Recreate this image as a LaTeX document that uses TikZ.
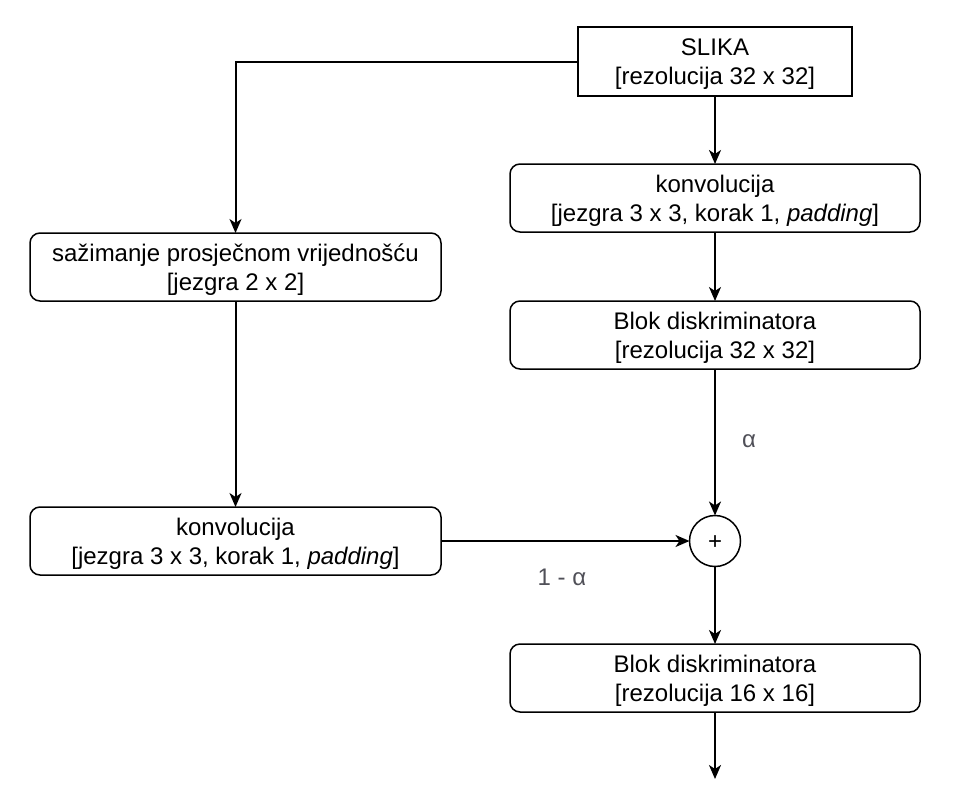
\documentclass[tikz,border=0pt]{standalone}
\usepackage{fontspec}
\setmainfont{Liberation Sans}
\usetikzlibrary{arrows.meta}
\definecolor{lblgray}{HTML}{505058}
\begin{document}
\begin{tikzpicture}[x=1pt,y=-1pt,
  every node/.style={font=\fontsize{24}{29}\selectfont, align=center, inner sep=0pt, outer sep=0pt},
  sharpbox/.style={draw, line width=1.5pt, minimum width=274pt, minimum height=69pt, text depth=0pt},
  rbox/.style={draw, line width=1.5pt, rounded corners=10pt, minimum width=410pt, minimum height=68pt, text depth=0pt},
  sumnode/.style={draw, line width=1.5pt, circle, minimum size=51pt},
  conn/.style={line width=2pt, -{Stealth[length=14pt, width=12pt, inset=4pt]}},
  lbl/.style={text=lblgray}
]
\useasboundingbox (0,0) rectangle (968,787);
\node[sharpbox] (slika) at (715,61.5) {SLIKA\\{[}rezolucija 32 x 32{]}};
\node[rbox] (konv1) at (715,198) {konvolucija\\{[}jezgra 3 x 3, korak 1, \textit{padding}{]}};
\node[rbox] (blok32) at (715,335) {Blok diskriminatora\\{[}rezolucija 32 x 32{]}};
\node[sumnode] (sum) at (715,541) {};
\node (plus) at (715,543) {+};
\node[rbox] (blok16) at (715,678) {Blok diskriminatora\\{[}rezolucija 16 x 16{]}};
\node[rbox, minimum width=411pt] (pool) at (235.5,267) {sažimanje prosječnom vrijednošću\\{[}jezgra 2 x 2{]}};
\node[rbox, minimum width=411pt] (konv2) at (235.5,541) {konvolucija\\{[}jezgra 3 x 3, korak 1, \textit{padding}{]}};
\coordinate (out) at (715,779);
\node[lbl] (alpha) at (749,441) {α};
\node[lbl] (oneminus) at (562,577) {1 - α};
\draw[conn] (slika.south) -- (konv1.north);
\draw[conn] (konv1.south) -- (blok32.north);
\draw[conn] (blok32.south) -- (sum.north);
\draw[conn] (sum.south) -- (blok16.north);
\draw[conn] (blok16.south) -- (out);
\draw[conn] (slika.west) -| (pool.north);
\draw[conn] (pool.south) -- (konv2.north);
\draw[conn] (konv2.east) -- (sum.west);
\end{tikzpicture}
\end{document}
